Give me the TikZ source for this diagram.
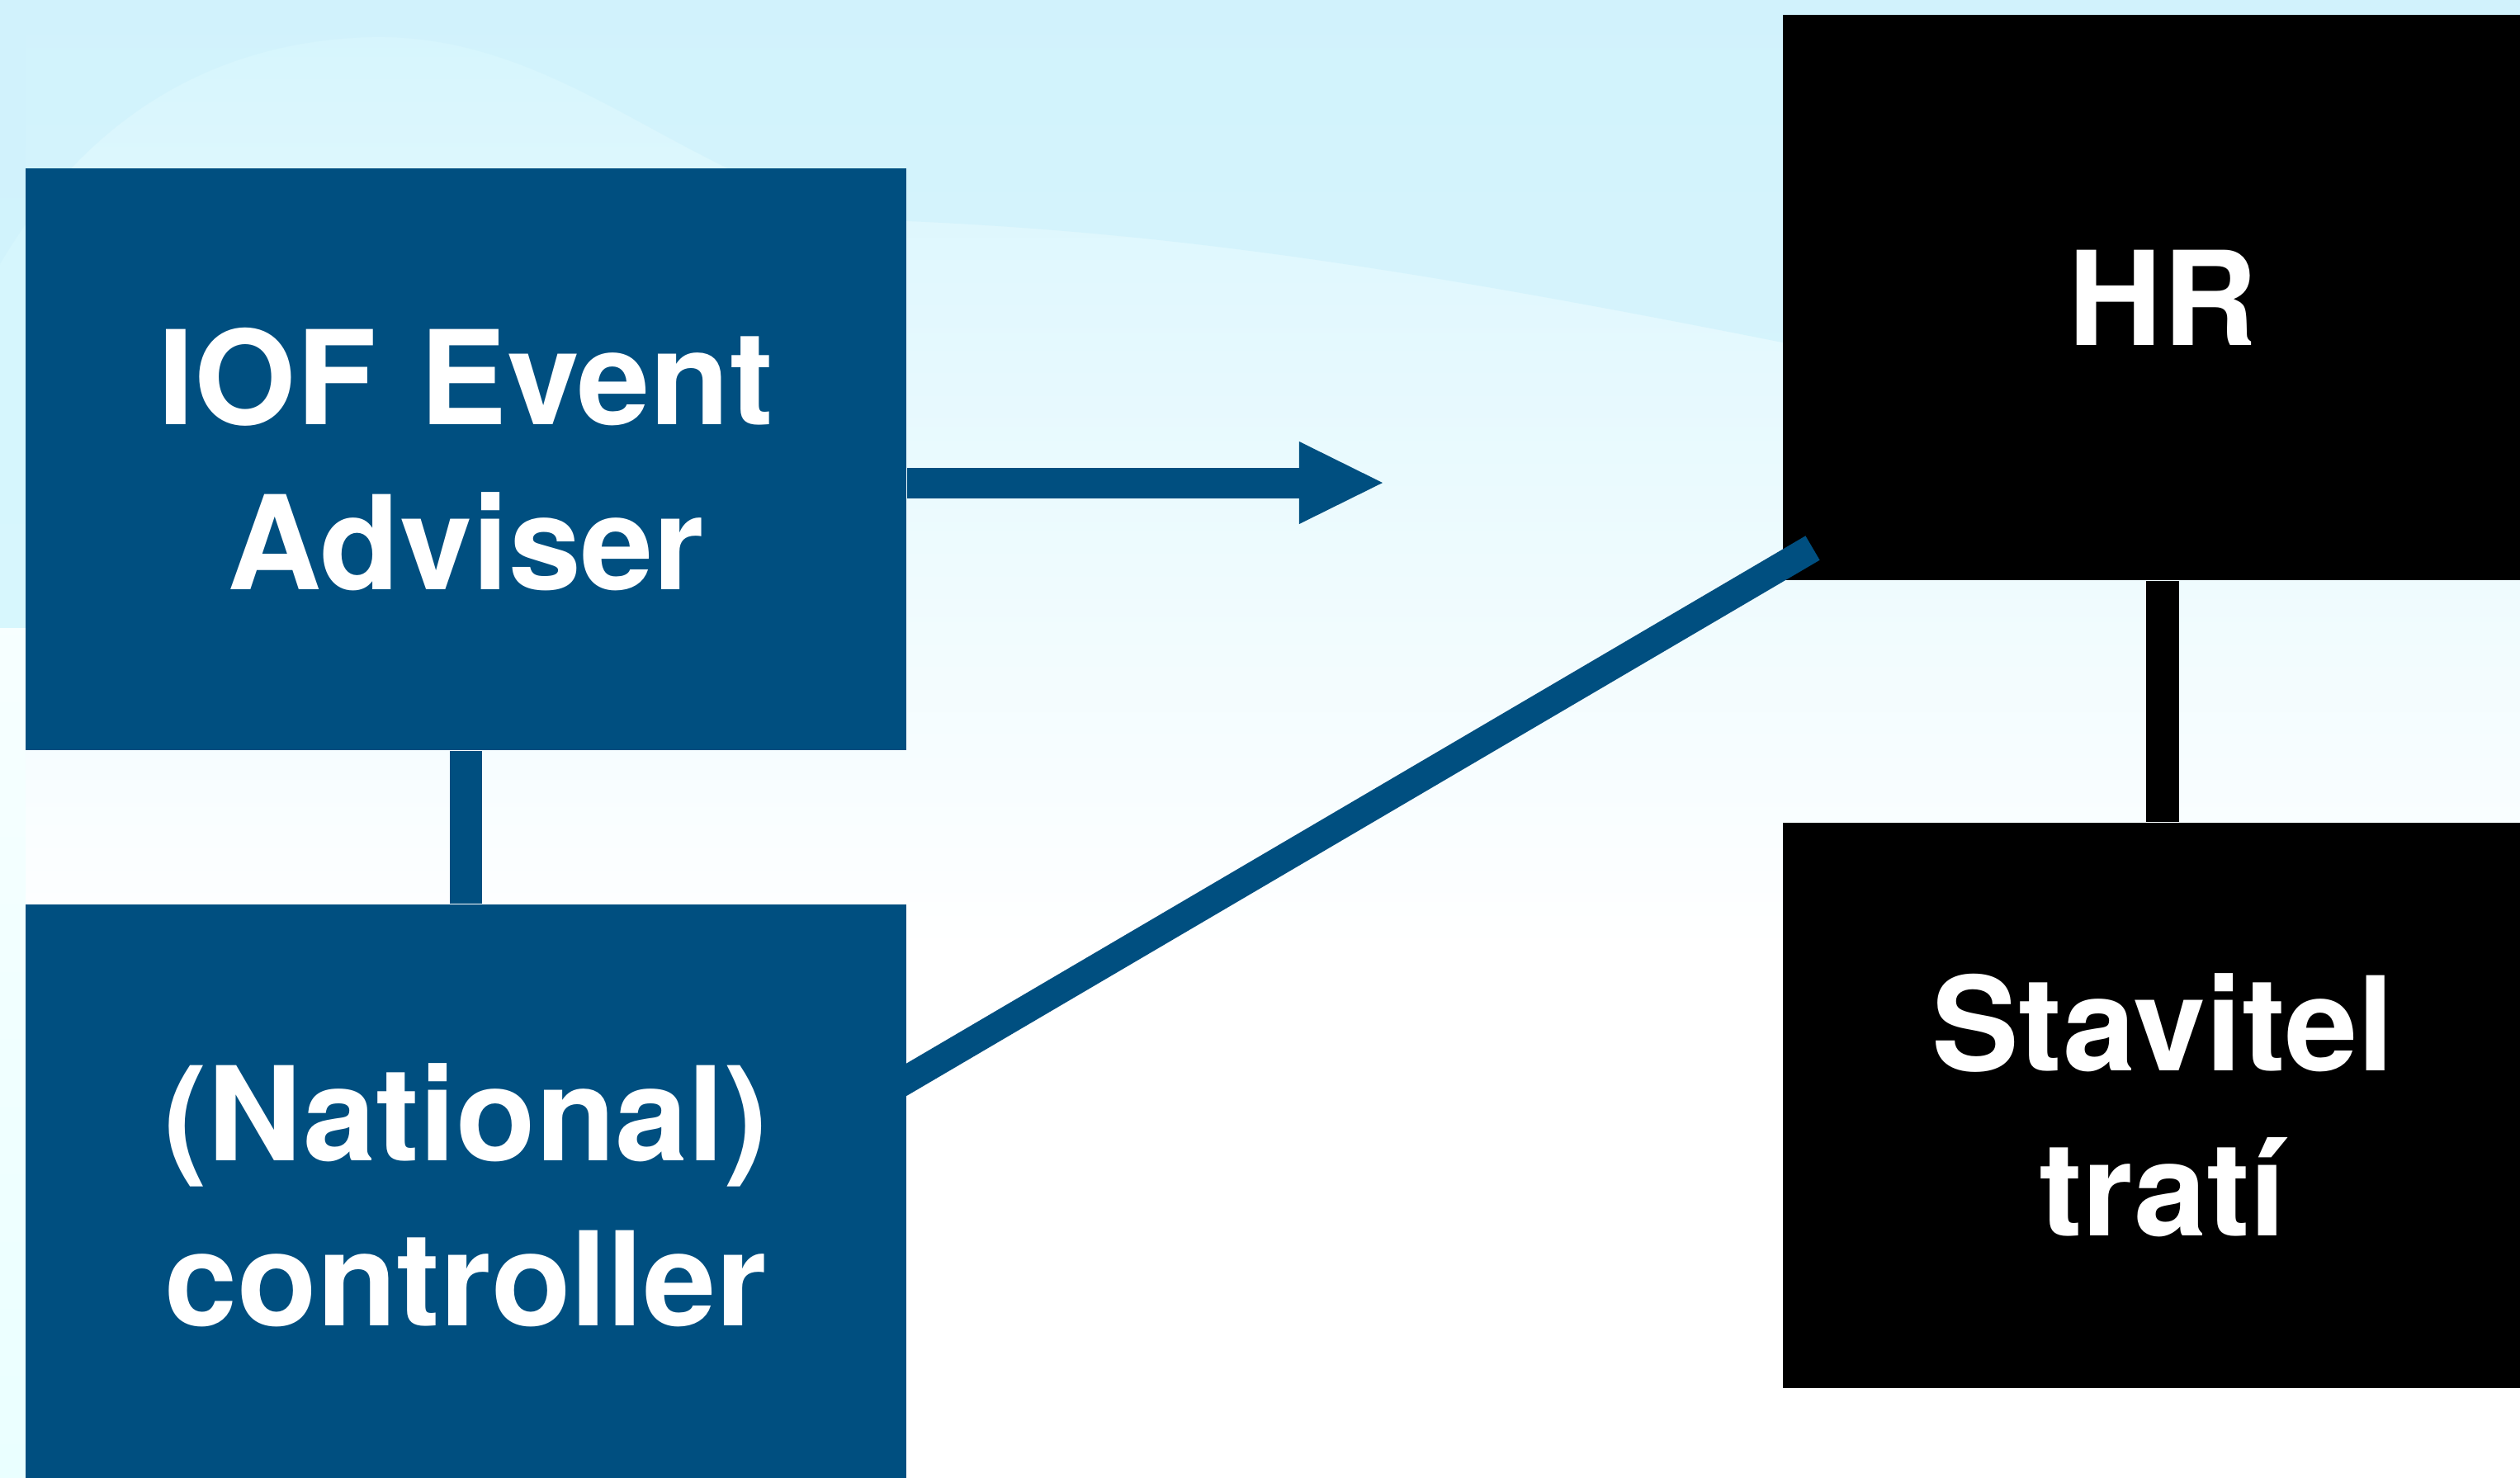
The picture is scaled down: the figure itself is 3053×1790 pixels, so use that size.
\documentclass[tikz,border=0pt]{standalone}
\usepackage{fontspec}
\setmainfont{TeX Gyre Heros}
\usetikzlibrary{positioning,arrows.meta}
\definecolor{iofblue}{RGB}{0,79,128}
\definecolor{bgdark}{HTML}{D0F2FC}
\definecolor{bgtop}{HTML}{D5F5FD}
\definecolor{bgmid}{HTML}{DEFDFD}
\definecolor{bglow}{HTML}{EAFFFF}
\pgfdeclarelayer{front}
\pgfsetlayers{main,front}
\begin{document}
\begin{tikzpicture}[x=0.01cm,y=-0.01cm,
  bluebox/.style={rectangle,fill=iofblue,text=white,inner sep=0pt,
    minimum width=10.67cm,minimum height=7.05cm,text width=10cm,align=center,
    font=\fontsize{45}{57}\selectfont\bfseries},
  blackbox/.style={bluebox,fill=black,minimum width=9.2cm,minimum height=6.85cm,text width=8.5cm},
  blueline/.style={iofblue,line width=0.39cm},
  blackline/.style={black,line width=0.4cm}]
\useasboundingbox (0,0) rectangle (3053,1790);
\clip (0,0) rectangle (3053,1790);
% background
\fill[white] (0,0) rectangle (3053,1790);
\shade[top color=bgtop,middle color=bgmid,bottom color=white] (0,0) rectangle (3053,1150);
\shade[top color=bgtop,bottom color=bgtop!80!bgmid] (0,0) rectangle (31,761);
\shade[top color=white!60!bglow,bottom color=bglow] (0,761) rectangle (31,1790);
\fill[bgdark,opacity=0.7] (0,0) -- (0,320) .. controls (100,150) and (250,50) .. (450,45)
  .. controls (700,40) and (850,250) .. (1100,268)
  .. controls (1600,290) and (2000,380) .. (3053,600) -- (3053,0) -- cycle;
% boxes
\node[bluebox] (adviser) at (564.5,556.5) {IOF Event\\Adviser};
\begin{pgfonlayer}{front}
\node[bluebox,below=1.85cm of adviser] (controller) {(National)\\controller};
\end{pgfonlayer}
\node[blackbox] (hr) at (2620,360.5) {HR};
\node[blackbox,below=2.92cm of hr] (stavitel) {Stavitel\\tratí};
% connectors
\draw[blueline] (adviser) -- (controller);
\draw[blackline] (hr) -- (stavitel);
\coordinate (tip) at (1675,585);
\draw[blueline,line width=0.37cm,-{Triangle[length=1.01cm,width=1cm,line width=0pt]}] (adviser.east |- tip) -- (tip);
\coordinate (hrjoin) at (2196,664);
\draw[blueline,line width=0.34cm,shorten <=-0.6cm] ([yshift=1.405cm]controller.east) -- (hrjoin);
\end{tikzpicture}
\end{document}
